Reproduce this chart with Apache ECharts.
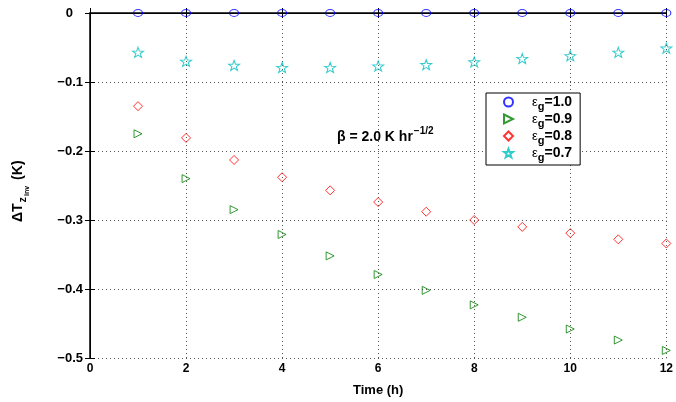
<!DOCTYPE html>
<html>
<head>
<meta charset="utf-8">
<script src="https://cdn.jsdelivr.net/npm/echarts@6/dist/echarts.min.js"></script>
<style>
  html, body { margin: 0; padding: 0; background: #fff; }
  #chartDom { width: 676px; height: 402px; }
</style>
</head>
<body>
<div id="chartDom"></div>
<script>
// hours
var hours = [1, 2, 3, 4, 5, 6, 7, 8, 9, 10, 11, 12];
// legend names
var seriesNames = ['ε_g=1.0', 'ε_g=0.9', 'ε_g=0.8', 'ε_g=0.7'];
// delta T values per emissivity
var eps10 = [0, 0, 0, 0, 0, 0, 0, 0, 0, 0, 0, 0];
var eps09 = [-0.175, -0.240, -0.285, -0.321, -0.352, -0.379, -0.402, -0.423, -0.441, -0.458, -0.474, -0.489];
var eps08 = [-0.135, -0.181, -0.213, -0.238, -0.257, -0.274, -0.288, -0.300, -0.310, -0.319, -0.328, -0.334];
var eps07 = [-0.057, -0.070, -0.076, -0.079, -0.079, -0.077, -0.075, -0.071, -0.066, -0.062, -0.057, -0.051];
var xTicks = [0, 2, 4, 6, 8, 10, 12];
var yTicks = [-0.5, -0.4, -0.3, -0.2, -0.1, 0];

var starPath = 'path://M10,0 L12.35,6.76 L19.51,6.91 L13.8,11.24 L15.88,18.09 L10,14 L4.12,18.09 L6.2,11.24 L0.49,6.91 L7.65,6.76 Z';
var triPath = 'path://M0,0 L10,5 L0,10 Z';
var fontFam = '"Liberation Sans", Arial, sans-serif';

function pairs(vals) {
    return hours.map(function (h, i) { return [h, vals[i]]; });
}

function mk(name, vals, color, symbol, size) {
    return {
        name: name,
        type: 'scatter',
        clip: false,
        symbol: symbol,
        symbolSize: size,
        itemStyle: { color: 'rgba(0,0,0,0)', borderColor: color, borderWidth: 1 },
        emphasis: { disabled: true },
        data: pairs(vals)
    };
}

var chartDom = echarts.init(document.getElementById('chartDom'));
chartDom.setOption({
    animation: false,
    backgroundColor: '#fff',
    grid: { left: 90, right: 8, top: 13, bottom: 43 },
    xAxis: [{
        type: 'value', min: 0, max: 12, interval: 2,
        axisLine: { lineStyle: { color: '#000', width: 1.5 } },
        axisTick: { inside: true, length: 5, lineStyle: { color: '#000' } },
        axisLabel: {
            color: '#000', fontWeight: 'bold', fontSize: 12, fontFamily: fontFam, margin: 5,
            formatter: function (v) { return xTicks.indexOf(v) >= 0 ? String(v) : ''; }
        },
        splitLine: { show: true, lineStyle: { color: '#555', type: [1, 3], width: 1 } },
        name: 'Time (h)', nameLocation: 'middle', nameGap: 26,
        nameTextStyle: { color: '#000', fontWeight: 'bold', fontSize: 13, fontFamily: fontFam }
    }, {
        type: 'value', position: 'top', min: 0, max: 12, interval: 2,
        axisLine: { lineStyle: { color: '#000', width: 1 } },
        axisTick: { inside: true, length: 5, lineStyle: { color: '#000' } },
        axisLabel: { show: false }, splitLine: { show: false }
    }],
    yAxis: [{
        type: 'value', min: -0.5, max: 0, interval: 0.1,
        axisLine: { lineStyle: { color: '#000', width: 1.5 } },
        axisTick: { inside: true, length: 5, lineStyle: { color: '#000' } },
        axisLabel: {
            color: '#000', fontWeight: 'bold', fontSize: 13, fontFamily: fontFam, margin: 7,
            formatter: function (v) {
                var r = Math.round(v * 10) / 10;
                return r === 0 ? '{z|0}' : '\u2212' + Math.abs(r).toFixed(1);
            },
            rich: { z: { fontSize: 13, fontWeight: 'bold', color: '#000', padding: [0, 10, 0, 0] } }
        },
        splitLine: { show: true, lineStyle: { color: '#555', type: [1, 3], width: 1 } }
    }, {
        type: 'value', position: 'right', min: -0.5, max: 0, interval: 0.1,
        axisLine: { lineStyle: { color: '#000', width: 1 } },
        axisTick: { inside: true, length: 5, lineStyle: { color: '#000' } },
        axisLabel: { show: false }, splitLine: { show: false }
    }],
    legend: {
        orient: 'vertical', left: 486, top: 93,
        padding: [2, 8, 2, 17], itemGap: 0,
        itemWidth: 9, itemHeight: 9,
        borderColor: '#000', borderWidth: 1, backgroundColor: '#fff',
        data: seriesNames,
        formatter: function (n) {
            var p = n.split('_');
            var rest = p[1].split('=');
            return '{e|ε}{s|' + rest[0] + '}{v|=' + rest[1] + '}';
        },
        textStyle: {
            fontFamily: fontFam,
            rich: {
                e: { fontSize: 13, lineHeight: 13, fontWeight: 'normal', color: '#000', verticalAlign: 'top', padding: [1, 0, 0, 14] },
                s: { fontSize: 11, lineHeight: 11, fontWeight: 'bold', color: '#000', verticalAlign: 'top', padding: [6, 0, 0, 0] },
                v: { fontSize: 14, lineHeight: 14, fontWeight: 'bold', color: '#000', verticalAlign: 'top', padding: [0, 0, 0, 0] }
            }
        }
    },
    graphic: [{
        type: 'text', left: 337, top: 126,
        style: {
            text: '{a|β = 2.0 K hr}{b|−1/2}',
            fontFamily: fontFam,
            rich: {
                a: { fontSize: 14, fontWeight: 'bold', fill: '#000', verticalAlign: 'top', padding: [4, 0, 0, 0] },
                b: { fontSize: 10, fontWeight: 'bold', fill: '#000', verticalAlign: 'top', padding: [0, 0, 0, 1] }
            }
        }
    }, {
        type: 'text', x: 11, y: 222, rotation: Math.PI / 2,
        style: {
            text: '{a|ΔT}{s|z}{t|inv}{a| (K)}',
            fontFamily: fontFam,
            rich: {
                a: { fontSize: 14, fontWeight: 'bold', fill: '#000', verticalAlign: 'top' },
                s: { fontSize: 11, fontWeight: 'bold', fill: '#000', verticalAlign: 'top', padding: [6, 1, 0, 1] },
                t: { fontSize: 7, fontWeight: 'bold', fill: '#000', verticalAlign: 'top', padding: [13, 2, 0, 0] }
            }
        }
    }],
    series: [
        mk(seriesNames[0], eps10, '#0000ff', 'circle', [9, 7]),
        mk(seriesNames[1], eps09, '#008000', triPath, [8, 8]),
        mk(seriesNames[2], eps08, '#ff0000', 'diamond', [9, 9]),
        mk(seriesNames[3], eps07, '#00bfbf', starPath, [11, 10])
    ]
});
</script>
</body>
</html>
